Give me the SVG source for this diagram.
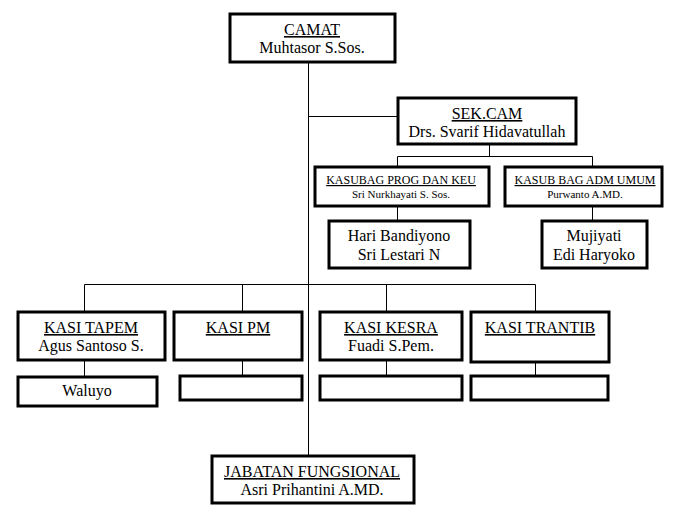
<svg xmlns="http://www.w3.org/2000/svg" width="678" height="517" viewBox="0 0 678 517">
<style>
.box{fill:#fff;stroke:#000;stroke-width:3}
.ln{stroke:#000;stroke-width:1;fill:none}
text{font-family:"Liberation Serif","Times New Roman",serif;fill:#000;text-anchor:middle}
.t{font-size:16px;text-decoration:underline}
.n{font-size:16px}
.ts{font-size:12px;text-decoration:underline}
.ns{font-size:11px}
</style>
<rect width="678" height="517" fill="#fff"/>
<g id="connectors">
<path class="ln" d="M308.5 62V455"/>
<path class="ln" d="M308.5 116.5H397"/>
<path class="ln" d="M489.5 145V156.5M397.5 156.5H592.5M397.5 156.5V166M592.5 156.5V166"/>
<path class="ln" d="M397.5 207V220M592.5 207V220"/>
<path class="ln" d="M84.5 284.5H535.5M84.5 284.5V311M242.5 284.5V311M386.5 284.5V311M535.5 284.5V311"/>
<path class="ln" d="M84.5 361V376M242.5 361V376M386.5 361V376M535.5 363V376"/>
</g>
<g id="camat"><rect class="box" x="230" y="14" width="165" height="48"/><text class="t" x="312" y="35">CAMAT</text><text class="n" x="312" y="53">Muhtasor S.Sos.</text></g>
<g id="sekcam"><rect class="box" x="398" y="98" width="178" height="46"/><text class="t" x="487" y="119">SEK.CAM</text><text class="n" x="487" y="137">Drs. Svarif Hidavatullah</text></g>
<g id="kasubag-prog"><rect class="box" x="315" y="167" width="174" height="39"/><text class="ts" x="401" y="184">KASUBAG PROG DAN KEU</text><text class="ns" x="401" y="198">Sri Nurkhayati S. Sos.</text></g>
<g id="kasubag-adm"><rect class="box" x="505" y="167" width="157" height="39"/><text class="ts" x="585" y="184">KASUB BAG ADM UMUM</text><text class="ns" x="585" y="198">Purwanto A.MD.</text></g>
<g id="staff-prog"><rect class="box" x="329" y="221" width="141" height="47"/><text class="n" x="399" y="241">Hari Bandiyono</text><text class="n" x="399" y="260">Sri Lestari N</text></g>
<g id="staff-adm"><rect class="box" x="542" y="221" width="105" height="47"/><text class="n" x="594" y="241">Mujiyati</text><text class="n" x="594" y="260">Edi Haryoko</text></g>
<g id="kasi-tapem"><rect class="box" x="18" y="312" width="147" height="48"/><text class="t" x="91" y="333">KASI TAPEM</text><text class="n" x="91" y="351">Agus Santoso S.</text></g>
<g id="kasi-pm"><rect class="box" x="174" y="312" width="128" height="48"/><text class="t" x="238" y="333">KASI PM</text></g>
<g id="kasi-kesra"><rect class="box" x="320" y="312" width="142" height="48"/><text class="t" x="391" y="333">KASI KESRA</text><text class="n" x="391" y="351">Fuadi S.Pem.</text></g>
<g id="kasi-trantib"><rect class="box" x="471" y="312" width="138" height="50"/><text class="t" x="540" y="333">KASI TRANTIB</text></g>
<g id="staff-tapem"><rect class="box" x="18" y="377" width="139" height="29"/><text class="n" x="87" y="396">Waluyo</text></g>
<g id="staff-pm"><rect class="box" x="180" y="376" width="122" height="24"/></g>
<g id="staff-kesra"><rect class="box" x="320" y="376" width="142" height="24"/></g>
<g id="staff-trantib"><rect class="box" x="471" y="376" width="137" height="24"/></g>
<g id="jabatan"><rect class="box" x="212" y="456" width="202" height="47"/><text class="t" x="312" y="477">JABATAN FUNGSIONAL</text><text class="n" x="312" y="495">Asri Prihantini A.MD.</text></g>
</svg>
